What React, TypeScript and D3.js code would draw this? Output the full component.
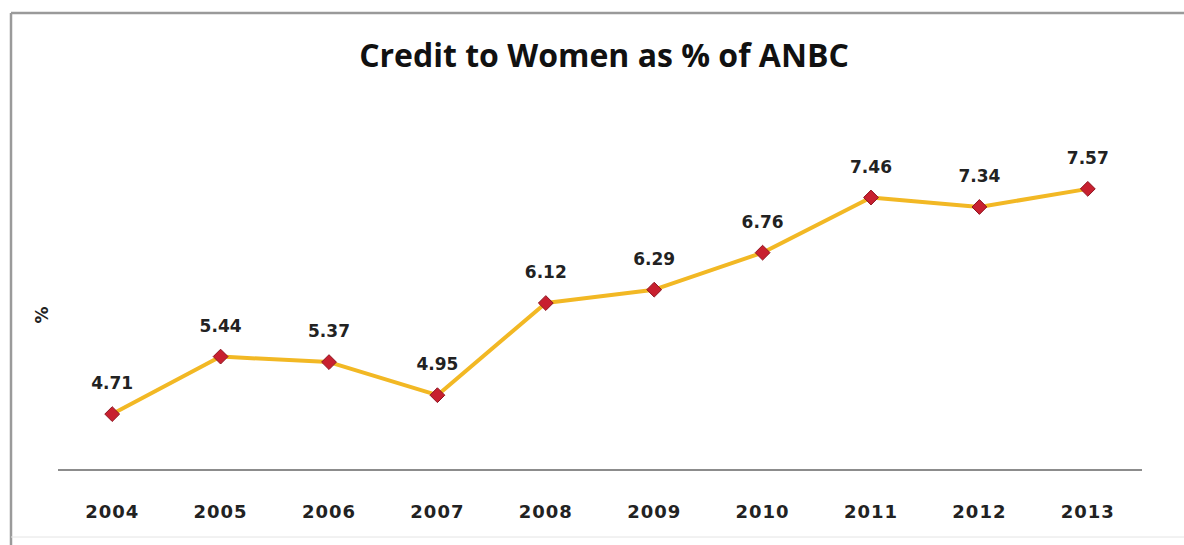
import React from "react";
import * as d3 from "d3";

const years = ["2004", "2005", "2006", "2007", "2008", "2009", "2010", "2011", "2012", "2013"];
const values = [4.71, 5.44, 5.37, 4.95, 6.12, 6.29, 6.76, 7.46, 7.34, 7.57];
const title = "Credit to Women as % of ANBC";
const yLabel = "%";

const W = 1184;
const H = 545;
const TFONT = "'Open Sans', 'DejaVu Sans', sans-serif";
const FONT = "'DejaVu Sans', 'Open Sans', sans-serif";

export default function App() {
  const x = d3.scaleBand<string>().domain(years).range([58, 1142]);
  const y = d3.scaleLinear().domain([4, 8]).range([470, 155]);
  const line = d3
    .line<number>()
    .x((_, i) => (x(years[i]) as number) + x.bandwidth() / 2)
    .y((d) => y(d));
  const diamond = d3.symbol().type(d3.symbolDiamond2).size(140)() as string;

  return (
    <div style={{ position: "absolute", left: 0, top: 0 }}>
      <svg width={W} height={H} style={{ display: "block", background: "#fff" }}>
        <rect x={0} y={0} width={W} height={H} fill="#fff" />
        <line x1={11} y1={13} x2={W} y2={13} stroke="#9a9a9a" strokeWidth={2.5} />
        <line x1={11} y1={13} x2={11} y2={H} stroke="#9a9a9a" strokeWidth={2.5} />
        <line x1={11} y1={537} x2={W} y2={537} stroke="#e4e4e4" strokeWidth={1} />
        <text
          x={604}
          y={67}
          textAnchor="middle"
          fontFamily={TFONT}
          fontWeight="bold"
          fontSize={32}
          fill="#111"
        >
          {title}
        </text>
        <text
          transform={`translate(48,315) rotate(-90)`}
          textAnchor="middle"
          fontFamily={FONT}
          fontWeight="bold"
          fontSize={17}
          fill="#222"
        >
          {yLabel}
        </text>
        <line x1={58} y1={470} x2={1142} y2={470} stroke="#8c8c8c" strokeWidth={2} />
        {years.map((yr) => (
          <text
            key={yr}
            x={(x(yr) as number) + x.bandwidth() / 2}
            y={518}
            textAnchor="middle"
            fontFamily={FONT}
            fontWeight="bold"
            fontSize={18}
            letterSpacing={1}
            fill="#222"
          >
            {yr}
          </text>
        ))}
        <path d={line(values) as string} fill="none" stroke="#f2b824" strokeWidth={4} strokeLinejoin="round" />
        {values.map((v, i) => {
          const cx = (x(years[i]) as number) + x.bandwidth() / 2;
          const cy = y(v);
          return (
            <g key={i}>
              <path d={diamond} transform={`translate(${cx},${cy})`} fill="#c8202f" stroke="#8e1420" strokeWidth={1} />
              <text
                x={cx}
                y={cy - 25}
                textAnchor="middle"
                fontFamily={FONT}
                fontWeight="bold"
                fontSize={17}
                fill="#222"
              >
                {v.toFixed(2)}
              </text>
            </g>
          );
        })}
      </svg>
    </div>
  );
}
